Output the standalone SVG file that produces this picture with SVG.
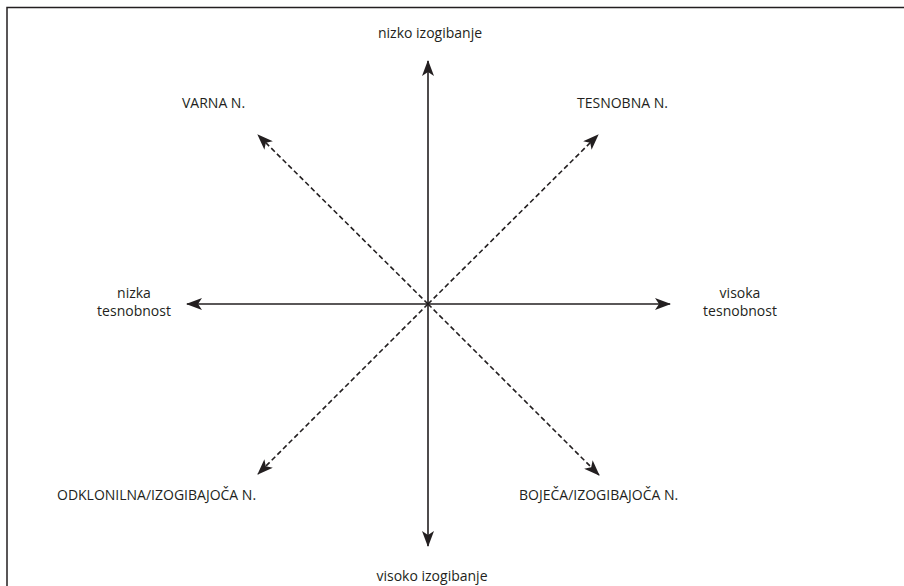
<svg xmlns="http://www.w3.org/2000/svg" width="904" height="586" viewBox="0 0 904 586">
<style>
text{font-family:"Open Sans","Liberation Sans",sans-serif;font-size:14px;fill:#231f20}
.ax{stroke:#231f20;stroke-width:1.6;fill:none}
.dg{stroke:#231f20;stroke-width:1.6;fill:none;stroke-dasharray:5 3}
</style>
<defs>
<marker id="ah" viewBox="0 0 16 12" refX="15" refY="6" markerWidth="16" markerHeight="12" markerUnits="userSpaceOnUse" orient="auto">
<path d="M0,0 L16,6 L0,12 L4,6 Z" fill="#231f20"/>
</marker>
</defs>
<rect x="7" y="7.5" width="910" height="600" fill="none" stroke="#231f20" stroke-width="1.5"/>
<g id="connectors">
<line class="ax" x1="428" y1="304" x2="428" y2="61" marker-end="url(#ah)"/>
<line class="ax" x1="428" y1="304" x2="428" y2="546" marker-end="url(#ah)"/>
<line class="ax" x1="428" y1="304" x2="187" y2="304" marker-end="url(#ah)"/>
<line class="ax" x1="428" y1="304" x2="670" y2="304" marker-end="url(#ah)"/>
<line class="dg" x1="428" y1="304" x2="258" y2="135" marker-end="url(#ah)"/>
<line class="dg" x1="428" y1="304" x2="598" y2="135" marker-end="url(#ah)"/>
<line class="dg" x1="428" y1="304" x2="258" y2="474" marker-end="url(#ah)"/>
<line class="dg" x1="428" y1="304" x2="599" y2="475" marker-end="url(#ah)"/>
</g>
<g id="n-top"><text x="430" y="38" text-anchor="middle">nizko izogibanje</text></g>
<g id="n-varna"><text x="182" y="108">VARNA N.</text></g>
<g id="n-tesnobna"><text x="577" y="108">TESNOBNA N.</text></g>
<g id="n-left"><text x="134" y="298" text-anchor="middle">nizka</text><text x="134" y="316" text-anchor="middle">tesnobnost</text></g>
<g id="n-right"><text x="740" y="298" text-anchor="middle">visoka</text><text x="740" y="316" text-anchor="middle">tesnobnost</text></g>
<g id="n-odkl"><text x="57" y="500">ODKLONILNA/IZOGIBAJOČA N.</text></g>
<g id="n-bojeca"><text x="519" y="500">BOJEČA/IZOGIBAJOČA N.</text></g>
<g id="n-bottom"><text x="432" y="581" text-anchor="middle">visoko izogibanje</text></g>
</svg>
